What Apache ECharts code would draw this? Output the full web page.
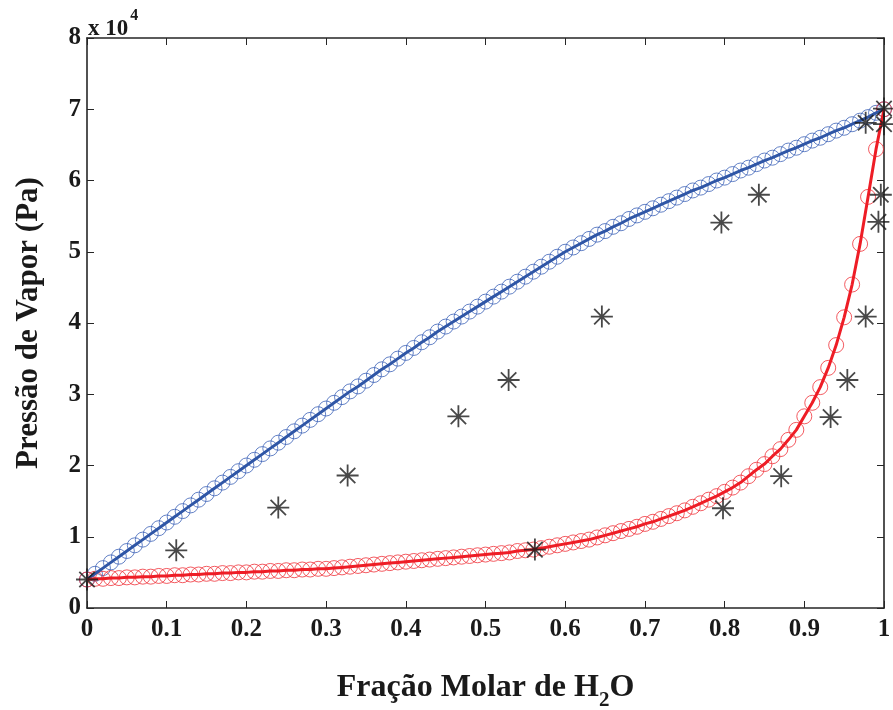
<!DOCTYPE html>
<html>
<head>
<meta charset="utf-8">
<script src="https://cdn.jsdelivr.net/npm/echarts@6/dist/echarts.min.js"></script>
<style>html,body{margin:0;padding:0;background:#fff}#c{width:893px;height:710px}</style>
</head>
<body>
<div id="c"></div>
<script>
// Mole fraction grid for the model curves
const xGrid = [0,0.01,0.02,0.03,0.04,0.05,0.06,0.07,0.08,0.09,0.1,0.11,0.12,0.13,0.14,0.15,0.16,0.17,0.18,0.19,0.2,0.21,0.22,0.23,0.24,0.25,0.26,0.27,0.28,0.29,0.3,0.31,0.32,0.33,0.34,0.35,0.36,0.37,0.38,0.39,0.4,0.41,0.42,0.43,0.44,0.45,0.46,0.47,0.48,0.49,0.5,0.51,0.52,0.53,0.54,0.55,0.56,0.57,0.58,0.59,0.6,0.61,0.62,0.63,0.64,0.65,0.66,0.67,0.68,0.69,0.7,0.71,0.72,0.73,0.74,0.75,0.76,0.77,0.78,0.79,0.8,0.81,0.82,0.83,0.84,0.85,0.86,0.87,0.88,0.89,0.9,0.91,0.92,0.93,0.94,0.95,0.96,0.97,0.98,0.99,1];
// Bubble curve (blue), Pa
const bubbleP = [4000,4800,5600,6400,7200,8000,8800,9600,10400,11200,12000,12800,13600,14400,15200,16000,16800,17600,18400,19200,20000,20800,21600,22400,23200,24000,24800,25600,26400,27200,28000,28800,29600,30400,31100,31900,32700,33500,34200,35000,35800,36500,37300,38000,38800,39500,40200,40900,41600,42300,43000,43700,44400,45100,45800,46500,47200,47900,48600,49300,50000,50600,51200,51800,52400,52900,53500,54000,54600,55100,55600,56100,56600,57100,57600,58100,58600,59000,59500,60000,60400,60900,61400,61800,62300,62800,63200,63700,64200,64600,65100,65600,66000,66500,67000,67400,67900,68400,68900,69500,70000];
// Dew curve (red), Pa
const dewP = [4000,4100,4100,4200,4200,4300,4300,4400,4400,4500,4500,4600,4600,4700,4700,4800,4800,4900,4900,5000,5000,5100,5100,5200,5200,5300,5300,5400,5400,5500,5500,5600,5700,5800,5900,6000,6100,6200,6300,6400,6500,6600,6700,6800,6900,7000,7100,7200,7300,7400,7500,7600,7700,7800,8000,8100,8200,8400,8600,8800,9000,9200,9400,9600,9900,10200,10500,10800,11100,11400,11800,12100,12500,12900,13300,13700,14200,14700,15200,15700,16300,16900,17600,18500,19400,20200,21300,22300,23600,25000,26900,28800,31000,33700,36900,40800,45400,51100,57700,64400,70000];
// Experimental points (black asterisks)
const expX = [0,0.112,0.240,0.327,0.466,0.529,0.646,0.796,0.843,0.977,1.0,
              0.562,0.798,0.871,0.933,0.954,0.977,0.993,0.996,1.0];
const expP = [4000,8100,14100,18600,26900,32000,40900,54100,58000,68100,70100,
              8200,14000,18500,26800,32000,40900,54200,58000,67900];
const yTicks = [0,1,2,3,4,5,6,7,8];

const serif = '"Liberation Serif","DejaVu Serif",serif';
const pair = (xs, ys) => xs.map((x, i) => [x, ys[i]]);
const blue = '#2f56a6', red = '#ee1d26', axisCol = '#262626', txt = '#1a1a1a';
const tick = {show: true, inside: true, length: 7, lineStyle: {color: axisCol, width: 1}};
const line = {show: true, onZero: false, lineStyle: {color: axisCol, width: 1.6}};

const chart = echarts.init(document.getElementById('c'), null, {renderer: 'canvas'});
chart.setOption({
  animation: false,
  backgroundColor: '#fff',
  grid: {left: 87, right: 9, top: 38, bottom: 102, containLabel: false, outerBoundsMode: 'none'},
  xAxis: [{
    type: 'value', min: 0, max: 1, interval: 0.1,
    axisLine: line, axisTick: tick, splitLine: {show: false},
    axisLabel: {color: txt, fontFamily: serif, fontWeight: 'bold', fontSize: 25, margin: 9,
      formatter: v => String(Math.round(v * 10) / 10)},
    name: 'Fração Molar de H{sub|2}O', nameLocation: 'middle', nameGap: 56,
    nameTextStyle: {color: txt, fontFamily: serif, fontWeight: 'bold', fontSize: 32,
      rich: {sub: {fontFamily: serif, fontWeight: 'bold', fontSize: 21, color: txt, padding: [26, 0, 0, 0]}}}
  }, {
    type: 'value', min: 0, max: 1, interval: 0.1, position: 'top',
    axisLine: line, axisTick: tick, splitLine: {show: false}, axisLabel: {show: false}
  }],
  yAxis: [{
    type: 'value', min: 0, max: 80000, interval: 10000,
    axisLine: line, axisTick: tick, splitLine: {show: false},
    axisLabel: {color: txt, fontFamily: serif, fontWeight: 'bold', fontSize: 25, margin: 6,
      formatter: v => String(yTicks[Math.round(v / 10000)])},
    name: 'Pressão de Vapor (Pa)', nameLocation: 'middle', nameGap: 43, nameRotate: 90,
    nameTextStyle: {color: txt, fontFamily: serif, fontWeight: 'bold', fontSize: 31}
  }, {
    type: 'value', min: 0, max: 80000, interval: 10000, position: 'right',
    axisLine: line, axisTick: tick, splitLine: {show: false}, axisLabel: {show: false}
  }],
  graphic: [{
    type: 'text', left: 88, top: 8,
    style: {text: '{a|x 10}{b|4}', fill: txt,
      rich: {a: {fontFamily: serif, fontWeight: 'bold', fontSize: 23, fill: txt, padding: [12, 0, 0, 0]},
             b: {fontFamily: serif, fontWeight: 'bold', fontSize: 16, fill: txt, padding: [0, 0, 14, 2]}}}
  }],
  series: [
    {type: 'scatter', data: pair(xGrid, bubbleP), symbol: 'circle', symbolSize: 15, z: 2,
     itemStyle: {color: 'rgba(0,0,0,0)', borderColor: '#3d63b8', borderWidth: 1}},
    {type: 'scatter', data: pair(xGrid, dewP), symbol: 'circle', symbolSize: 15, z: 2,
     itemStyle: {color: 'rgba(0,0,0,0)', borderColor: '#f0323a', borderWidth: 1}},
    {type: 'line', data: pair(xGrid, bubbleP), showSymbol: false, symbol: 'none', z: 3,
     lineStyle: {color: blue, width: 3}},
    {type: 'line', data: pair(xGrid, dewP), showSymbol: false, symbol: 'none', z: 3,
     lineStyle: {color: red, width: 3}},
    {type: 'scatter', data: pair(expX, expP), z: 4,
     symbol: 'path://M10,0 L10,20 M0,10 L20,10 M3,3 L17,17 M3,17 L17,3', symbolSize: 22,
     itemStyle: {color: 'none', borderColor: txt, borderWidth: 1.8}}
  ]
});
</script>
</body>
</html>
